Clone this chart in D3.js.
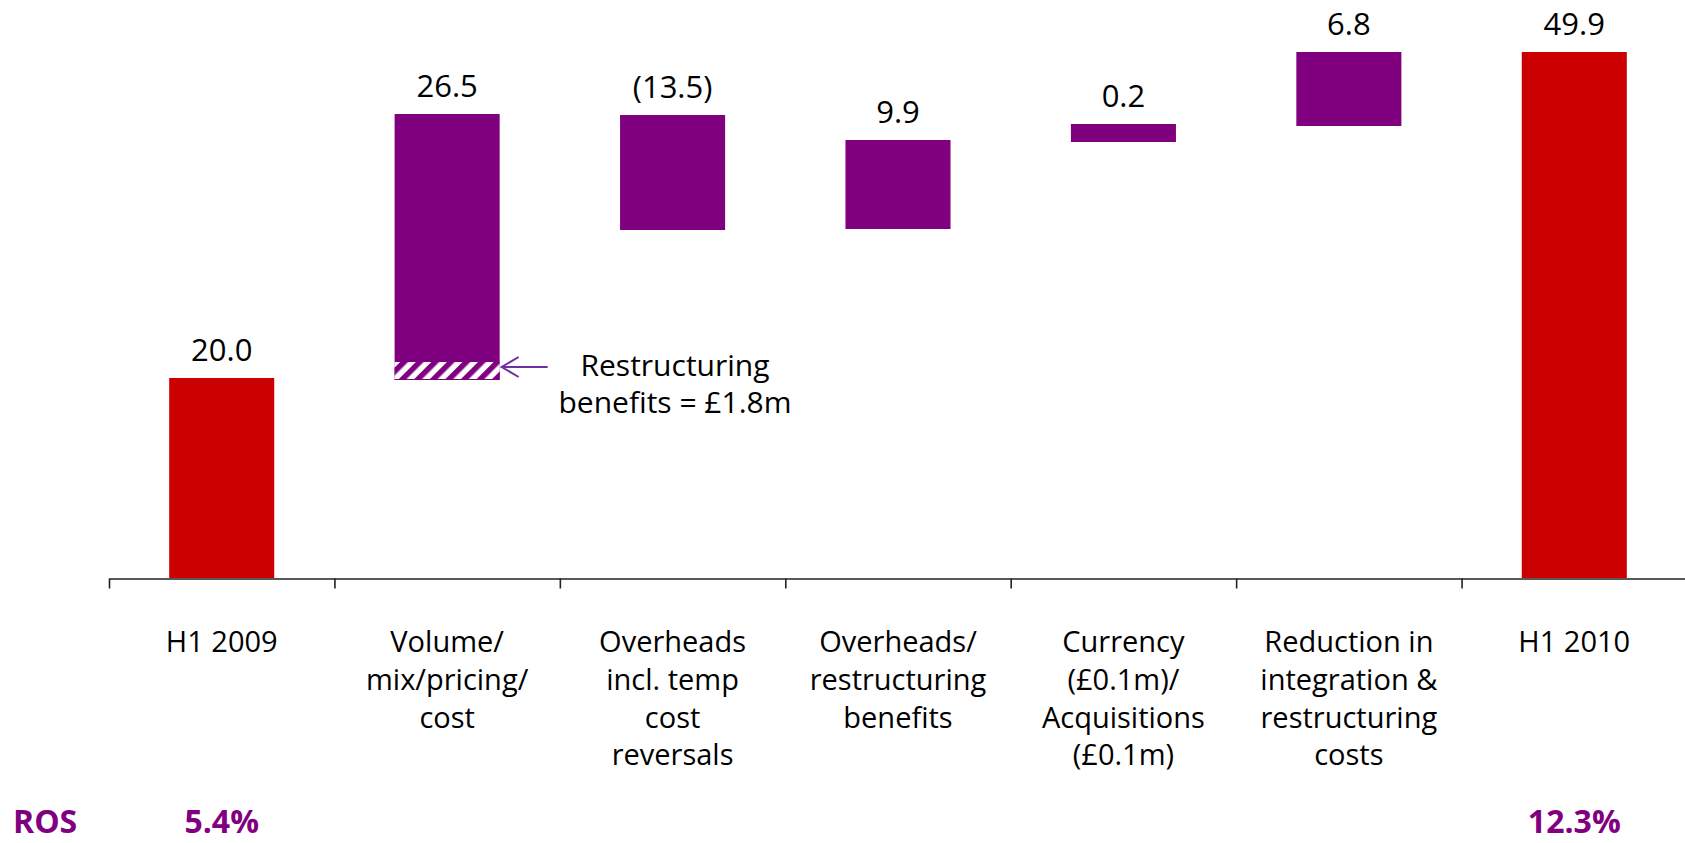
<!DOCTYPE html>
<html>
<head>
<meta charset="utf-8">
<script src="https://cdn.jsdelivr.net/npm/d3@7"></script>
<style>
  body { margin: 0; background: #fff; }
  text { font-family: "Open Sans", sans-serif; }
</style>
</head>
<body>
<div id="chart"></div>
<script>
var categories = ["H1 2009", "Volume/\nmix/pricing/\ncost", "Overheads\nincl. temp\ncost\nreversals",
                  "Overheads/\nrestructuring\nbenefits", "Currency\n(£0.1m)/\nAcquisitions\n(£0.1m)",
                  "Reduction in\nintegration &\nrestructuring\ncosts", "H1 2010"];
var valueLabels = ["20.0", "26.5", "(13.5)", "9.9", "0.2", "6.8", "49.9"];
var barKind = ["total", "step", "step", "step", "step", "step", "total"];
// bar extents as they are drawn in the slide (£m)
var barLow  = [0, 19.8, 34.8, 34.9, 43.6, 45.2, 0];
var barHigh = [20.0, 46.4, 46.3, 43.8, 45.4, 52.6, 52.6];
var restructuringBenefit = 1.8; // hatched part of volume bar
var rosLabels = ["5.4%", "", "", "", "", "", "12.3%"];

var red = "#cc0000", purple = "#800080";

var svg = d3.select("#chart").append("svg")
    .attr("width", 1685)
    .attr("height", 843);

var x = d3.scaleBand().domain(d3.range(categories.length)).range([109, 1687]).padding(0);
var xEdge = d3.scaleLinear().domain([0, categories.length]).range(x.range());
var y = d3.scaleLinear().domain([0, 52.6]).range([578, 52]);
var barW = x.bandwidth() * 0.466;

var defs = svg.append("defs");
var pat = defs.append("pattern")
    .attr("id", "hatch")
    .attr("patternUnits", "userSpaceOnUse")
    .attr("width", 11).attr("height", 11)
    .attr("patternTransform", "rotate(45)");
pat.append("rect").attr("width", 11).attr("height", 11).attr("fill", "#fff");
pat.append("rect").attr("width", 5.5).attr("height", 11).attr("fill", purple);

var data = categories.map(function(c, i) {
    return { i: i, label: valueLabels[i], kind: barKind[i], lo: barLow[i], hi: barHigh[i] };
});

// bars
svg.append("g").selectAll("rect")
    .data(data)
    .enter().append("rect")
    .attr("x", function(d) { return x(d.i) + (x.bandwidth() - barW) / 2; })
    .attr("width", barW)
    .attr("y", function(d) { return y(d.hi); })
    .attr("height", function(d) { return y(d.lo) - y(d.hi); })
    .attr("fill", function(d) { return d.kind == "total" ? red : purple; });

// hatched restructuring part
var vol = data[1];
var vx = x(1) + (x.bandwidth() - barW) / 2;
svg.append("rect")
    .attr("x", vx)
    .attr("width", barW)
    .attr("y", y(vol.lo + restructuringBenefit))
    .attr("height", y(vol.lo) - y(vol.lo + restructuringBenefit))
    .attr("fill", "url(#hatch)");
svg.append("line")
    .attr("x1", vx).attr("x2", vx + barW)
    .attr("y1", y(vol.lo) - 0.5).attr("y2", y(vol.lo) - 0.5)
    .attr("stroke", purple).attr("stroke-width", 1);

// arrow + note
var ay = y(vol.lo + restructuringBenefit / 2) - 4;
var tip = vx + barW + 2;
svg.append("line")
    .attr("x1", tip).attr("x2", tip + 46)
    .attr("y1", ay).attr("y2", ay)
    .attr("stroke", "#7030a0").attr("stroke-width", 2);
svg.append("path")
    .attr("d", "M" + (tip + 17) + "," + (ay - 10) + "L" + tip + "," + ay + "L" + (tip + 17) + "," + (ay + 10))
    .attr("fill", "none").attr("stroke", "#7030a0").attr("stroke-width", 2);
svg.append("text")
    .attr("x", 675).attr("y", 376)
    .attr("text-anchor", "middle")
    .style("font-size", "30px")
    .selectAll("tspan")
    .data(["Restructuring", "benefits = £1.8m"])
    .enter().append("tspan")
    .attr("x", 675)
    .attr("dy", function(d, i) { return i ? 37 : 0; })
    .text(function(d) { return d; });

// value labels
svg.append("g").selectAll("text")
    .data(data)
    .enter().append("text")
    .attr("x", function(d) { return x(d.i) + x.bandwidth() / 2; })
    .attr("y", function(d) { return y(d.hi) - 17; })
    .attr("text-anchor", "middle")
    .style("font-size", "31px")
    .text(function(d) { return d.label; });

// axis
var axis = svg.append("g")
    .attr("transform", "translate(0," + 578.5 + ")")
    .call(d3.axisBottom(xEdge).tickValues(d3.range(categories.length + 1)).tickSize(10).tickSizeOuter(0).tickFormat(""));
axis.selectAll("path, line").attr("stroke", "#222").attr("stroke-width", 1.6);

// category labels
svg.append("g").selectAll("text")
    .data(categories)
    .enter().append("text")
    .attr("text-anchor", "middle")
    .attr("y", 652)
    .style("font-size", "29px")
    .each(function(c, i) {
        var t = d3.select(this);
        c.split("\n").forEach(function(line, k) {
            t.append("tspan")
                .attr("x", x(i) + x.bandwidth() / 2)
                .attr("dy", k ? 37.8 : 0)
                .text(line);
        });
    });

// ROS row
svg.append("text")
    .attr("x", 13).attr("y", 833)
    .style("font-size", "32px").style("font-weight", "bold")
    .attr("fill", purple)
    .text("ROS");
svg.append("g").selectAll("text")
    .data(rosLabels)
    .enter().append("text")
    .attr("x", function(d, i) { return x(i) + x.bandwidth() / 2; })
    .attr("y", 833)
    .attr("text-anchor", "middle")
    .style("font-size", "32px").style("font-weight", "bold")
    .attr("fill", purple)
    .text(function(d) { return d; });
</script>
</body>
</html>
